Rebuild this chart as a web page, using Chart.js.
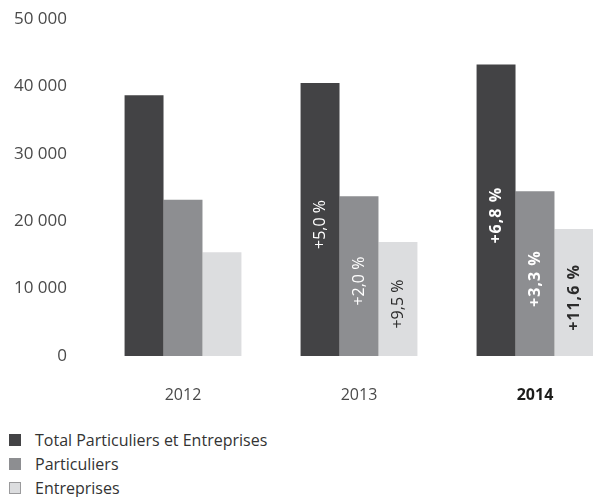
<!DOCTYPE html>
<html lang="fr">
<head>
<meta charset="utf-8">
<title>Évolution 2012-2014</title>
<script src="https://cdn.jsdelivr.net/npm/chart.js@4.4.1/dist/chart.umd.min.js"></script>
<style>
    html, body { margin: 0; padding: 0; background: #fff; }
    body { width: 593px; height: 497px; overflow: hidden; position: relative; font-family: "Open Sans", sans-serif; }
    /* la zone dépasse volontairement à droite : le dernier groupe est coupé au bord */
    #zone { position: absolute; left: 0; top: 0; width: 623px; height: 416px; }
    #legende { position: absolute; left: 9px; top: 428px; margin: 0; padding: 0; list-style: none; font-size: 16px; color: #333; }
    #legende li { height: 24px; display: flex; align-items: center; }
    #legende .carre { width: 12px; height: 12px; margin-right: 14px; box-sizing: border-box; }
</style>
</head>
<body>
<div id="zone"><canvas id="graphique"></canvas></div>
<ul id="legende"></ul>

<script>
/* ─── Données ───────────────────────────────────────────────────── */
const ANNEES       = ['2012', '2013', '2014'];
const TOTAL        = [38700, 40500, 43250];
const PARTICULIERS = [23200, 23700, 24450];
const ENTREPRISES  = [15400, 16900, 18850];

// variation sur un an, en % (null = pas d'étiquette)
const VAR_TOTAL        = [null, 5.0, 6.8];
const VAR_PARTICULIERS = [null, 2.0, 3.3];
const VAR_ENTREPRISES  = [null, 9.5, 11.6];

const GRADUATIONS = [0, 10000, 20000, 30000, 40000, 50000];

/* ─── Utilitaires ───────────────────────────────────────────────── */
const POLICE = '"Open Sans", sans-serif';

function milliers(v) {
    return String(v).replace(/\B(?=(\d{3})+(?!\d))/g, ' ');
}
function pourcent(v) {
    return '+' + v.toFixed(1).replace('.', ',') + ' %';
}

/* Étiquettes verticales de variation, au milieu de chaque barre */
const etiquettesVariation = {
    id: 'etiquettesVariation',
    afterDatasetsDraw(chart) {
        const ctx = chart.ctx;
        chart.data.datasets.forEach((ds, i) => {
            const meta = chart.getDatasetMeta(i);
            meta.data.forEach((barre, j) => {
                const v = ds.variations[j];
                if (v === null || v === undefined) return;
                const gras = j === ds.data.length - 1;
                ctx.save();
                ctx.translate(barre.x, (barre.y + barre.base) / 2 + 5);
                ctx.rotate(-Math.PI / 2);
                ctx.font = (gras ? 'bold ' : '') + '16px ' + POLICE;
                if (gras) ctx.letterSpacing = '1px';
                ctx.fillStyle = ds.couleurTexte;
                ctx.textAlign = 'center';
                ctx.textBaseline = 'middle';
                ctx.fillText(pourcent(v), 0, 0);
                ctx.restore();
            });
        });
    },
};

Chart.defaults.font.family = POLICE;

const graphique = new Chart(document.getElementById('graphique'), {
    type: 'bar',
    data: {
        labels: ANNEES,
        datasets: [
            { label: 'Total Particuliers et Entreprises', data: TOTAL,
              variations: VAR_TOTAL, backgroundColor: '#434345', couleurTexte: '#ffffff' },
            { label: 'Particuliers', data: PARTICULIERS,
              variations: VAR_PARTICULIERS, backgroundColor: '#8d8e91', couleurTexte: '#ffffff' },
            { label: 'Entreprises', data: ENTREPRISES,
              variations: VAR_ENTREPRISES, backgroundColor: '#dcdddf', couleurTexte: '#2b2b2b' },
        ],
    },
    options: {
        responsive: true,
        maintainAspectRatio: false,
        animation: false,
        layout: { padding: { top: 19, left: 0, right: 0, bottom: 0 } },
        datasets: {
            bar: { barPercentage: 1, categoryPercentage: 0.664, borderWidth: 0 },
        },
        plugins: {
            legend: { display: false },
            tooltip: { enabled: false },
        },
        scales: {
            x: {
                grid: { display: false, drawTicks: false },
                border: { display: false },
                afterFit: s => { s.height = 60; },
                ticks: {
                    padding: 30,
                    color: c => c.index === ANNEES.length - 1 ? '#1d1d1b' : '#4a4a4a',
                    font: c => ({ size: 16, weight: c.index === ANNEES.length - 1 ? 'bold' : 'normal' }),
                },
            },
            y: {
                min: 0,
                max: 50000,
                grid: { display: false, drawTicks: false },
                border: { display: false },
                // largeur fixe de l'axe ; pas de marge verticale due au padding des libellés
                afterFit: s => { s.width = 95; s.paddingTop = 0; s.paddingBottom = 0; },
                afterBuildTicks: s => { s.ticks = GRADUATIONS.map(v => ({ value: v })); },
                ticks: {
                    padding: 28,
                    color: '#4a4a4a',
                    font: { size: 17 },
                    callback: v => milliers(v),
                },
            },
        },
    },
    plugins: [etiquettesVariation],
});

/* Légende en colonne sous le graphique */
const legende = document.getElementById('legende');
graphique.data.datasets.forEach((ds, i) => {
    const li = document.createElement('li');
    const carre = document.createElement('span');
    carre.className = 'carre';
    carre.style.background = ds.backgroundColor;
    if (i === 2) carre.style.border = '1px solid #9a9a9c';
    li.appendChild(carre);
    li.appendChild(document.createTextNode(ds.label));
    legende.appendChild(li);
});
</script>
</body>
</html>
